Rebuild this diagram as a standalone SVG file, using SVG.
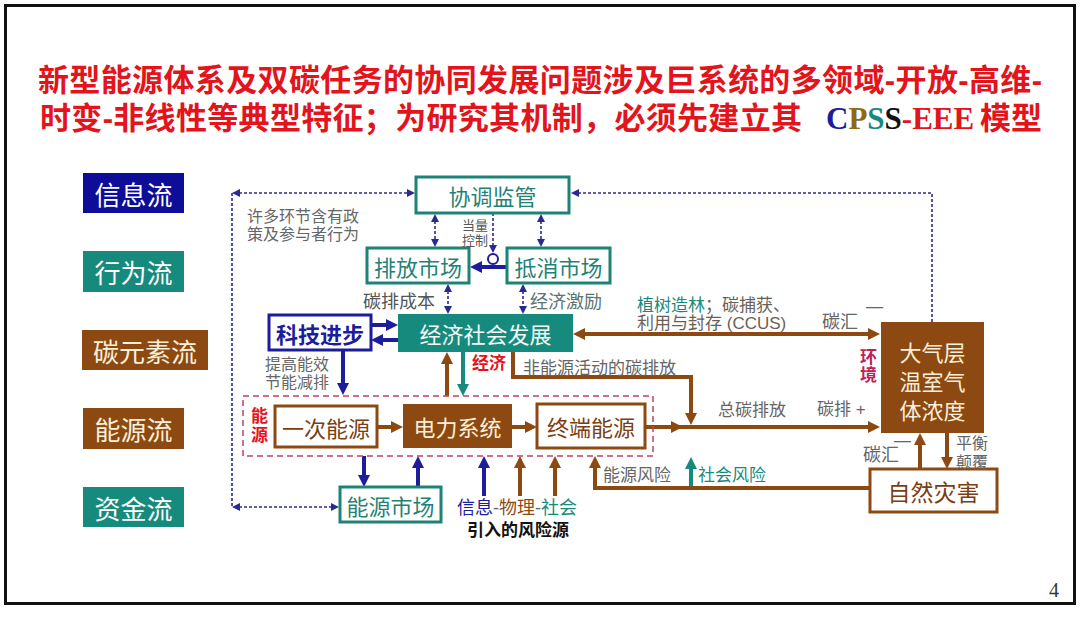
<svg xmlns="http://www.w3.org/2000/svg" width="1080" height="640" viewBox="0 0 1080 640">
<defs>
<style>
.cj{font-family:"Liberation Sans","Noto Sans CJK SC",sans-serif}
.title{font-family:"Liberation Sans","Noto Sans CJK SC",sans-serif;font-weight:700;font-size:31px;fill:#e3141b}
.lbl{font-family:"Noto Sans CJK SC",sans-serif;font-size:26px;fill:#ffffff;text-anchor:middle;dominant-baseline:central}
.nt{font-family:"Noto Sans CJK SC",sans-serif;font-size:22px;text-anchor:middle;dominant-baseline:central}
.g{font-family:"Liberation Sans","Noto Sans CJK SC",sans-serif;font-size:17px;fill:#666;dominant-baseline:central}
.bxT{fill:#fff;stroke:#1f8276;stroke-width:3}
.bxB{fill:#fff;stroke:#1c1c9c;stroke-width:3}
.bxR{fill:#fff;stroke:#8c4a12;stroke-width:3}
.fT{fill:#178a7e}
.fR{fill:#8c4a12}
.dash{fill:none;stroke:#2a2a8e;stroke-width:1.6;stroke-dasharray:3 2}
.sb{fill:none;stroke:#1c1c9c;stroke-width:4}
.st{fill:none;stroke:#178a7e;stroke-width:4}
.sr{fill:none;stroke:#8c4a12;stroke-width:4}
</style>
<marker id="aB" viewBox="0 0 12 12" refX="1" refY="6" markerWidth="12" markerHeight="12" markerUnits="userSpaceOnUse" orient="auto-start-reverse"><path d="M0,0 L12,6 L0,12 Z" fill="#1c1c9c"/></marker>
<marker id="aT" viewBox="0 0 12 12" refX="1" refY="6" markerWidth="12" markerHeight="12" markerUnits="userSpaceOnUse" orient="auto-start-reverse"><path d="M0,0 L12,6 L0,12 Z" fill="#178a7e"/></marker>
<marker id="aR" viewBox="0 0 12 12" refX="1" refY="6" markerWidth="12" markerHeight="12" markerUnits="userSpaceOnUse" orient="auto-start-reverse"><path d="M0,0 L12,6 L0,12 Z" fill="#8c4a12"/></marker>
<marker id="aD" viewBox="0 0 8 8" refX="1" refY="4" markerWidth="8" markerHeight="8" markerUnits="userSpaceOnUse" orient="auto-start-reverse"><path d="M0,0 L8,4 L0,8 Z" fill="#2a2a8e"/></marker>
</defs>
<rect x="0" y="0" width="1080" height="640" fill="#fff"/>
<rect x="5.5" y="5.5" width="1069" height="598" fill="none" stroke="#111" stroke-width="3"/>
<text x="1049" y="597" font-family="Liberation Serif,serif" font-size="20" fill="#333">4</text>

<g id="title">
<text class="title" x="38" y="91" textLength="1004" lengthAdjust="spacing">新型能源体系及双碳任务的协同发展问题涉及巨系统的多领域-开放-高维-</text>
<text class="title" x="40" y="129" textLength="762" lengthAdjust="spacing">时变-非线性等典型特征；为研究其机制，必须先建立其</text>
<text x="826" y="129" font-family="Liberation Serif,serif" font-weight="700" font-size="31"><tspan fill="#1c1c9c">C</tspan><tspan fill="#8c6a12">P</tspan><tspan fill="#178a7e">S</tspan><tspan fill="#111">S</tspan><tspan fill="#e3141b">-EEE</tspan></text>
<text class="title" x="980" y="129">模型</text>
</g>

<g id="legend">
<g id="l-info"><rect x="83" y="173" width="101" height="40" fill="#0d0d98"/><text class="lbl" x="133.5" y="193">信息流</text></g>
<g id="l-behav"><rect x="83" y="251" width="101" height="41" class="fT"/><text class="lbl" x="133.5" y="271.5">行为流</text></g>
<g id="l-carbon"><rect x="82" y="330" width="126" height="40" class="fR"/><text class="lbl" x="145" y="350" style="fill:#fbefd9">碳元素流</text></g>
<g id="l-energy"><rect x="83" y="408" width="101" height="41" class="fR"/><text class="lbl" x="133.5" y="428.5" style="fill:#fbefd9">能源流</text></g>
<g id="l-fund"><rect x="83" y="487" width="101" height="40" class="fT"/><text class="lbl" x="133.5" y="507">资金流</text></g>
</g>

<g id="connectors">
<line class="dash" x1="232" y1="193" x2="232" y2="507"/>
<line class="dash" x1="239" y1="193" x2="408" y2="193" marker-start="url(#aD)" marker-end="url(#aD)"/>
<line class="dash" x1="239" y1="507" x2="332" y2="507" marker-start="url(#aD)" marker-end="url(#aD)"/>
<path class="dash" d="M932,322 L932,193 L578,193" marker-end="url(#aD)"/>
<line class="dash" x1="435" y1="221" x2="435" y2="240" marker-start="url(#aD)" marker-end="url(#aD)"/>
<line class="dash" x1="541" y1="221" x2="541" y2="240" marker-start="url(#aD)" marker-end="url(#aD)"/>
<line class="dash" x1="448" y1="291" x2="448" y2="307" marker-start="url(#aD)" marker-end="url(#aD)"/>
<line class="dash" x1="523" y1="291" x2="523" y2="307" marker-start="url(#aD)" marker-end="url(#aD)"/>
<line class="dash" x1="493" y1="213" x2="493" y2="246" marker-end="url(#aD)"/>
<line class="sb" x1="507" y1="267" x2="481" y2="267" marker-end="url(#aB)"/>
<circle cx="493" cy="259" r="5" fill="#fff" stroke="#1c1c9c" stroke-width="2"/>
<line class="sb" x1="371" y1="325" x2="387" y2="325" marker-end="url(#aB)"/>
<line class="sb" x1="398" y1="340" x2="382" y2="340" marker-end="url(#aB)"/>
<line class="sb" x1="343" y1="350" x2="343" y2="384" marker-end="url(#aB)"/>
<line class="sb" x1="364" y1="456" x2="364" y2="476" marker-end="url(#aB)"/>
<line class="sb" x1="418" y1="487" x2="418" y2="467" marker-end="url(#aB)"/>
<line class="sb" x1="484" y1="496" x2="484" y2="467" marker-end="url(#aB)"/>
<line class="st" x1="463" y1="352" x2="463" y2="385" marker-end="url(#aT)"/>
<line class="st" x1="691" y1="488" x2="691" y2="468" marker-end="url(#aT)"/>
<line class="sr" x1="447" y1="396" x2="447" y2="363" marker-end="url(#aR)"/>
<path class="sr" d="M513,352 L513,377 L691,377 L691,414" marker-end="url(#aR)"/>
<line class="sr" x1="377" y1="427" x2="392" y2="427" marker-end="url(#aR)"/>
<line class="sr" x1="512" y1="427" x2="526" y2="427" marker-end="url(#aR)"/>
<line class="sr" x1="645" y1="427" x2="869" y2="427" marker-end="url(#aR)"/>
<line class="sr" x1="660" y1="427" x2="672" y2="427" marker-end="url(#aR)"/>
<line class="sr" x1="584" y1="334" x2="869" y2="334" marker-start="url(#aR)" marker-end="url(#aR)"/>
<line class="sr" x1="920" y1="469" x2="920" y2="444" marker-end="url(#aR)"/>
<line class="sr" x1="947" y1="433" x2="947" y2="458" marker-end="url(#aR)"/>
<path class="sr" d="M870,488 L595,488 L595,467" marker-end="url(#aR)"/>
<line class="sr" x1="520" y1="496" x2="520" y2="467" marker-end="url(#aR)"/>
<line class="sr" x1="555" y1="496" x2="555" y2="467" marker-end="url(#aR)"/>
<rect x="243" y="396" width="410" height="60" fill="none" stroke="#c0406a" stroke-width="1.5" stroke-dasharray="6 4"/>
</g>

<g id="n-xietiao"><rect x="416" y="177" width="153" height="36" class="bxT"/><text class="nt" x="492.5" y="195" fill="#1f8276">协调监管</text></g>
<g id="n-paifang"><rect x="367" y="248" width="102" height="35" class="bxT"/><text class="nt" x="418" y="265.5" fill="#1f8276">排放市场</text></g>
<g id="n-dixiao"><rect x="507" y="248" width="103" height="35" class="bxT"/><text class="nt" x="558.5" y="265.5" fill="#1f8276">抵消市场</text></g>
<g id="n-jingji"><rect x="398" y="314" width="175" height="38" class="fT"/><text class="nt" x="485.5" y="333" fill="#f4fbf8">经济社会发展</text></g>
<g id="n-keji"><rect x="269" y="315" width="102" height="35" class="bxB"/><text class="nt" x="320" y="332.5" fill="#1c1c9c" font-weight="700">科技进步</text></g>
<g id="n-yici"><rect x="275" y="406" width="102" height="41" class="bxR"/><text class="nt" x="326" y="426.5" fill="#7a3e10">一次能源</text></g>
<g id="n-dianli"><rect x="403" y="404" width="109" height="44" class="fR"/><text class="nt" x="457.5" y="426" fill="#fbefd9">电力系统</text></g>
<g id="n-zhongduan"><rect x="537" y="404" width="108" height="44" class="bxR"/><text class="nt" x="591" y="426" fill="#7a3e10">终端能源</text></g>
<g id="n-nengyuanshichang"><rect x="340" y="487" width="101" height="35" class="bxT"/><text class="nt" x="390.5" y="504.5" fill="#1f8276">能源市场</text></g>
<g id="n-daqi"><rect x="881" y="322" width="103" height="111" class="fR"/>
<text class="nt" x="932.5" y="351" fill="#fbefd9">大气层</text>
<text class="nt" x="932.5" y="380" fill="#fbefd9">温室气</text>
<text class="nt" x="932.5" y="409" fill="#fbefd9">体浓度</text></g>
<g id="n-ziran"><rect x="870" y="469" width="127" height="43" class="bxR"/><text class="nt" x="933.5" y="490.5" fill="#7a3e10" style="font-size:23px">自然灾害</text></g>

<g id="labels">
<text class="g" x="247" y="216" style="font-size:16px">许多环节含有政</text>
<text class="g" x="247" y="234" style="font-size:16px">策及参与者行为</text>
<text class="g" x="462" y="225" style="font-size:13px;fill:#555">当量</text>
<text class="g" x="462" y="240" style="font-size:13px;fill:#555">控制</text>
<text class="g" x="363" y="302" style="font-size:18px;fill:#555">碳排成本</text>
<text class="g" x="530" y="302" style="font-size:18px;fill:#5a7470">经济激励</text>
<text class="g" x="265" y="364" style="font-size:16px">提高能效</text>
<text class="g" x="265" y="382" style="font-size:16px">节能减排</text>
<text class="g" x="472" y="363" style="font-weight:700;fill:#e3141b">经济</text>
<text class="g" x="523" y="368">非能源活动的碳排放</text>
<text class="g" x="637" y="305"><tspan fill="#178a7e">植树造林</tspan><tspan fill="#6a5f55">；碳捕获、</tspan></text>
<text class="g" x="637" y="323" style="fill:#6a5f55">利用与封存 (CCUS)</text>
<text class="g" x="822" y="322" style="font-size:18px">碳汇</text>
<text class="g" x="866" y="306">—</text>
<text class="g" x="860" y="357" style="font-weight:700;fill:#c0205a">环</text>
<text class="g" x="860" y="375" style="font-weight:700;fill:#c0205a">境</text>
<text class="g" x="718" y="410">总碳排放</text>
<text class="g" x="817" y="409">碳排 +</text>
<text class="g" x="251" y="416" style="font-weight:700;fill:#e3141b">能</text>
<text class="g" x="251" y="435" style="font-weight:700;fill:#e3141b">源</text>
<text class="g" x="894" y="440">—</text>
<text class="g" x="863" y="455" style="font-size:18px">碳汇</text>
<text class="g" x="956" y="443" style="font-size:16px">平衡</text>
<text class="g" x="956" y="462" style="font-size:16px">颠覆</text>
<text class="g" x="603" y="475">能源风险</text>
<text class="g" x="698" y="475" style="fill:#178a7e">社会风险</text>
<text class="g" x="457" y="508" style="font-size:18px"><tspan fill="#1c1c9c">信息</tspan><tspan fill="#666">-</tspan><tspan fill="#8c4a12">物理</tspan><tspan fill="#666">-</tspan><tspan fill="#178a7e">社会</tspan></text>
<text class="g" x="467" y="530" style="font-weight:700;fill:#111">引入的风险源</text>
</g>
</svg>
